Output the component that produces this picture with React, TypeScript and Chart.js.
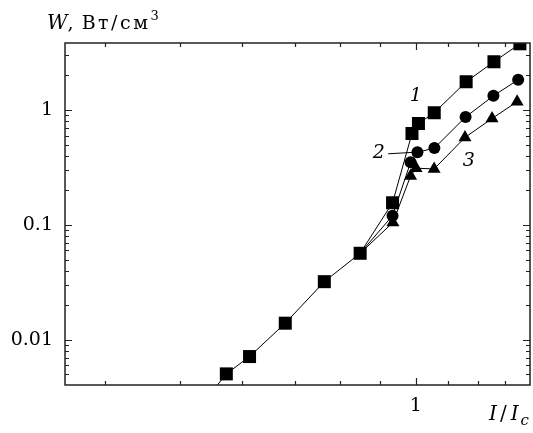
import { useEffect, useRef } from "react";
import { Chart, registerables } from "chart.js";

Chart.register(...registerables);

// Curve 1 (squares)
const curve1X = [0.538, 0.5725, 0.613, 0.681, 0.764, 0.849, 0.934, 0.989, 1.008, 1.056, 1.16, 1.259, 1.359];
const curve1Y = [0.003, 0.00506, 0.00716, 0.01397, 0.0321, 0.0567, 0.156, 0.625, 0.763, 0.947, 1.762, 2.63, 3.77];
// Curve 2 (circles)
const curve2X = [0.849, 0.934, 0.985, 1.005, 1.0565, 1.158, 1.257, 1.352];
const curve2Y = [0.0567, 0.1205, 0.351, 0.4286, 0.467, 0.869, 1.329, 1.834];
// Curve 3 (triangles)
const curve3X = [0.849, 0.935, 0.985, 1.001, 1.0556, 1.156, 1.252, 1.348];
const curve3Y = [0.0567, 0.105, 0.267, 0.312, 0.307, 0.577, 0.844, 1.181];

const xMajorTicks = [1];
const xMinorTicks = [0.4, 0.5, 0.6, 0.7, 0.8, 0.9, 1.1, 1.2, 1.3, 1.4];
const yMajorTicks = [0.01, 0.1, 1];
const yMinorTicks = [
  0.004, 0.005, 0.006, 0.007, 0.008, 0.009,
  0.02, 0.03, 0.04, 0.05, 0.06, 0.07, 0.08, 0.09,
  0.2, 0.3, 0.4, 0.5, 0.6, 0.7, 0.8, 0.9,
  2, 3,
];
const xLabelTicks = [1];
const yLabelTicks = [0.01, 0.1, 1];

const X_MIN = 0.356;
const X_MAX = 1.4;
const Y_MIN = 0.00405;
const Y_MAX = 3.83;

const SERIF = "'DejaVu Serif', 'Liberation Serif', serif";

const toPoints = (xs: number[], ys: number[]) => xs.map((x, i) => ({ x, y: ys[i] }));

type Run = { text: string; font: string; dy?: number; spacing?: number };

function drawRuns(ctx: CanvasRenderingContext2D, x: number, y: number, runs: Run[]) {
  let cx = x;
  for (const r of runs) {
    ctx.font = r.font;
    (ctx as any).letterSpacing = (r.spacing ?? 0) + "px";
    ctx.fillText(r.text, cx, y + (r.dy ?? 0));
    cx += ctx.measureText(r.text).width;
  }
  (ctx as any).letterSpacing = "0px";
}

const framePlugin = {
  id: "framePlugin",
  afterDraw(chart: any) {
    const { ctx, chartArea } = chart;
    const xs = chart.scales.x;
    const ys = chart.scales.y;
    const { left, right, top, bottom } = chartArea;
    ctx.save();
    ctx.strokeStyle = "#222";
    ctx.lineWidth = 1.5;
    ctx.strokeRect(left, top, right - left, bottom - top);

    ctx.lineWidth = 1.2;
    const hTick = (v: number, len: number) => {
      const px = Math.round(xs.getPixelForValue(v)) + 0.5;
      if (px <= left + 1 || px >= right - 1) return;
      ctx.beginPath();
      ctx.moveTo(px, bottom);
      ctx.lineTo(px, bottom - len);
      ctx.moveTo(px, top);
      ctx.lineTo(px, top + len);
      ctx.stroke();
    };
    const vTick = (v: number, len: number) => {
      const py = Math.round(ys.getPixelForValue(v)) + 0.5;
      if (py <= top + 1 || py >= bottom - 1) return;
      ctx.beginPath();
      ctx.moveTo(left, py);
      ctx.lineTo(left + len, py);
      ctx.moveTo(right, py);
      ctx.lineTo(right - len, py);
      ctx.stroke();
    };
    xMinorTicks.forEach((v) => hTick(v, 4));
    xMajorTicks.forEach((v) => hTick(v, 7));
    yMinorTicks.forEach((v) => vTick(v, 4));
    yMajorTicks.forEach((v) => vTick(v, 7));

    ctx.fillStyle = "#000";
    ctx.textBaseline = "alphabetic";
    ctx.textAlign = "left";

    // Y axis title
    drawRuns(ctx, 47, 29, [
      { text: "W", font: `italic 20px ${SERIF}` },
      { text: ", ", font: `19px ${SERIF}`, spacing: 1 },
      { text: "Вт/см", font: `19px ${SERIF}`, spacing: 2.5 },
      { text: "3", font: `13px ${SERIF}`, dy: -9 },
    ]);

    // X axis title
    drawRuns(ctx, 489, 420, [
      { text: "I", font: `italic 20px ${SERIF}`, spacing: 3 },
      { text: "/", font: `20px ${SERIF}`, spacing: 4 },
      { text: "I", font: `italic 20px ${SERIF}`, spacing: 2 },
      { text: "c", font: `italic 15px ${SERIF}`, dy: 5 },
    ]);

    // Curve labels
    ctx.font = `italic 19px ${SERIF}`;
    ctx.textAlign = "center";
    ctx.textBaseline = "alphabetic";
    const lab = (t: string, xv: number, yv: number) => {
      ctx.fillText(t, xs.getPixelForValue(xv), ys.getPixelForValue(yv));
    };
    lab("1", 1.0, 1.2);
    lab("2", 0.897, 0.383);
    lab("3", 1.169, 0.326);

    // leader line for label 2
    const c2x = xs.getPixelForValue(curve2X[3]);
    const c2y = ys.getPixelForValue(curve2Y[3]);
    ctx.lineWidth = 1;
    ctx.strokeStyle = "#000";
    ctx.beginPath();
    ctx.moveTo(xs.getPixelForValue(0.922), c2y + 1.5);
    ctx.lineTo(c2x - 4, c2y);
    ctx.stroke();
    ctx.restore();
  },
};

export default function App() {
  const ref = useRef<HTMLCanvasElement | null>(null);
  useEffect(() => {
    if (!ref.current) return;
    const hideFirst = (r: number) => (c: any) => (c.dataIndex === 0 ? 0 : r);
    const chart = new Chart(ref.current, {
      type: "line",
      data: {
        datasets: [
          {
            label: "1",
            data: toPoints(curve1X, curve1Y),
            borderColor: "#000",
            backgroundColor: "#000",
            borderWidth: 1,
            pointStyle: "rect",
            pointRadius: 9.2,
            pointBorderWidth: 0,
            pointHoverRadius: 9.2,
          },
          {
            label: "2",
            data: toPoints(curve2X, curve2Y),
            borderColor: "#000",
            backgroundColor: "#000",
            borderWidth: 1,
            pointStyle: "circle",
            pointRadius: hideFirst(6),
            pointBorderWidth: 0,
            pointHoverRadius: hideFirst(6),
          },
          {
            label: "3",
            data: toPoints(curve3X, curve3Y),
            borderColor: "#000",
            backgroundColor: "#000",
            borderWidth: 1,
            pointStyle: "triangle",
            pointRadius: hideFirst(7.5),
            pointBorderWidth: 0,
            pointHoverRadius: hideFirst(7.5),
          },
        ],
      },
      options: {
        responsive: false,
        animation: false,
        events: [],
        layout: { autoPadding: false, padding: { left: 0, top: 43, right: 3, bottom: 0 } },
        plugins: {
          legend: { display: false },
          tooltip: { enabled: false },
          title: { display: false },
        },
        scales: {
          x: {
            type: "logarithmic",
            min: X_MIN,
            max: X_MAX,
            grid: { display: false, drawTicks: false },
            border: { display: false },
            afterBuildTicks: (scale: any) => {
              scale.ticks = xLabelTicks.map((value) => ({ value }));
            },
            afterFit: (scale: any) => {
              scale.height = 48;
              scale.paddingLeft = 0;
              scale.paddingRight = 0;
            },
            ticks: {
              autoSkip: false,
              maxRotation: 0,
              padding: 10,
              color: "#000",
              font: { family: SERIF, size: 19 },
              callback: (v: any) => String(v),
            },
          },
          y: {
            type: "logarithmic",
            min: Y_MIN,
            max: Y_MAX,
            grid: { display: false, drawTicks: false },
            border: { display: false },
            afterBuildTicks: (scale: any) => {
              scale.ticks = yLabelTicks.map((value) => ({ value }));
            },
            afterFit: (scale: any) => {
              scale.width = 65;
              scale.paddingTop = 0;
              scale.paddingBottom = 0;
            },
            ticks: {
              autoSkip: false,
              padding: 12,
              color: "#000",
              font: { family: SERIF, size: 19 },
              callback: (v: any) => String(v),
            },
          },
        },
      },
      plugins: [framePlugin],
    });
    return () => chart.destroy();
  }, []);
  return (
    <div style={{ position: "fixed", left: 0, top: 0, width: 533, height: 433, background: "#fff" }}>
      <canvas ref={ref} width={533} height={433} style={{ display: "block" }} />
    </div>
  );
}
